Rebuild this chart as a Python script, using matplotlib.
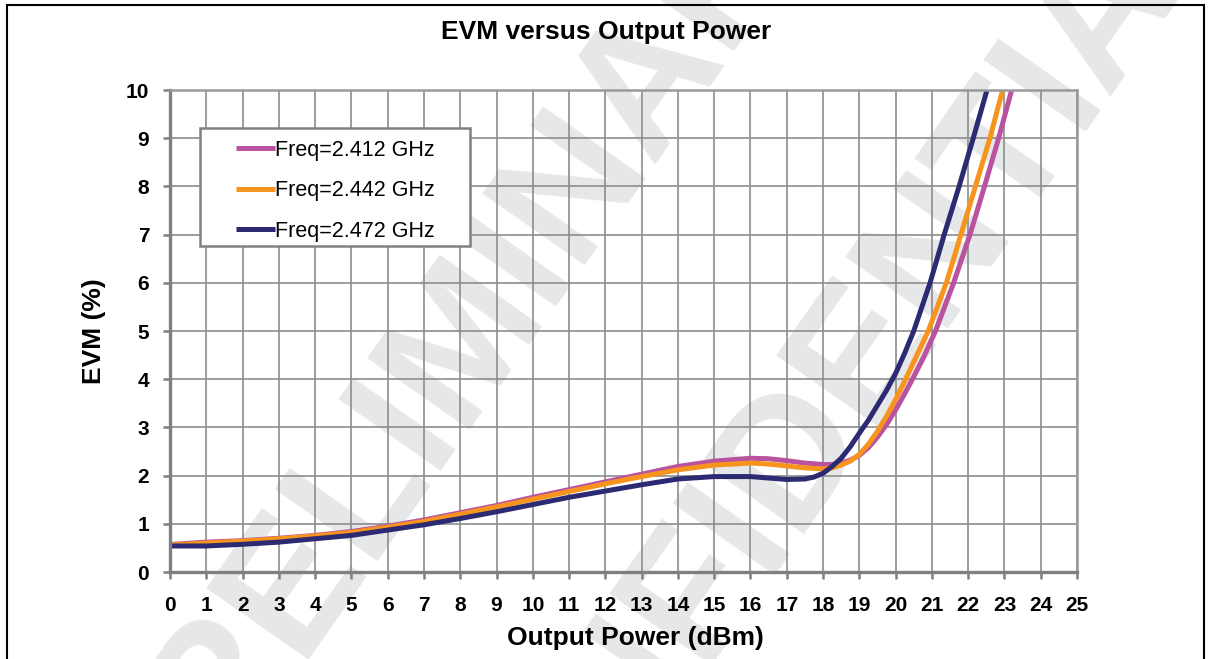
import matplotlib.pyplot as plt
from matplotlib.patches import Rectangle

# EVM vs output power, three channels
x_2412 = [0, 1, 2, 3, 4, 5, 6, 7, 8, 9, 10, 11, 12, 13, 14, 15, 16, 16.5, 17, 17.5, 18, 18.25, 18.5,
          18.75, 19, 19.25, 19.5, 19.75, 20, 20.25, 20.5, 20.8, 21.1, 21.6, 22.05, 22.45, 22.84, 23.2]
evm_2412 = [0.57, 0.62, 0.65, 0.7, 0.76, 0.84, 0.95, 1.08, 1.23, 1.38, 1.55, 1.71, 1.87, 2.03, 2.19, 2.3,
            2.36, 2.35, 2.31, 2.26, 2.23, 2.23, 2.26, 2.32, 2.42, 2.58, 2.8, 3.06, 3.36, 3.7, 4.05, 4.5,
            5.0, 6.0, 7.0, 8.0, 9.0, 10.0]

x_2442 = [0, 1, 2, 3, 4, 5, 6, 7, 8, 9, 10, 11, 12, 13, 14, 15, 16, 16.5, 17, 17.5, 18, 18.25, 18.5,
          18.75, 19, 19.25, 19.5, 19.75, 20, 20.25, 20.5, 20.9, 21.4, 21.8, 22.2, 22.6, 22.95]
evm_2442 = [0.56, 0.6, 0.64, 0.69, 0.75, 0.82, 0.93, 1.05, 1.2, 1.35, 1.51, 1.67, 1.83, 1.98, 2.12, 2.22,
            2.26, 2.24, 2.2, 2.16, 2.14, 2.16, 2.22, 2.3, 2.44, 2.65, 2.92, 3.23, 3.58, 3.96, 4.36, 5.0,
            6.0, 7.0, 8.0, 9.0, 10.0]

x_2472 = [0, 1, 2, 3, 4, 5, 6, 7, 8, 9, 10, 11, 12, 13, 14, 15, 16, 16.5, 17, 17.5, 17.75, 18, 18.25,
          18.5, 18.75, 19, 19.25, 19.5, 19.75, 20, 20.25, 20.5, 20.95, 21.34, 21.75, 22.14, 22.52]
evm_2472 = [0.54, 0.54, 0.575, 0.62, 0.69, 0.76, 0.87, 0.98, 1.11, 1.25, 1.4, 1.55, 1.68, 1.81, 1.93, 1.98,
            1.98, 1.95, 1.92, 1.93, 1.97, 2.05, 2.19, 2.36, 2.6, 2.88, 3.15, 3.46, 3.77, 4.12, 4.54, 5.0,
            6.0, 7.0, 8.0, 9.0, 10.0]

labels = ['Freq=2.412 GHz', 'Freq=2.442 GHz', 'Freq=2.472 GHz']
colors = ['#b9529f', '#f7941e', '#2b2a72']

plt.rcParams['font.family'] = ['Liberation Sans', 'DejaVu Sans']

fig = plt.figure(figsize=(12.12, 6.59), dpi=100)
ax = fig.add_axes([0.1403, 0.132, 0.7483, 0.7314])
ax.set_facecolor('none')

# watermark behind everything
fig.text(470 / 1212, 1 - 330 / 659, 'PRELIMINARY', rotation=55, fontsize=130, fontweight='bold',
         color='#e6e7e8', ha='center', va='center', rotation_mode='anchor', zorder=-1)
fig.text(820 / 1212, 1 - 420 / 659, 'CONFIDENTIAL', rotation=55, fontsize=130, fontweight='bold',
         color='#e6e7e8', ha='center', va='center', rotation_mode='anchor', zorder=-1)

for xs, ys, lab, c in zip([x_2412, x_2442, x_2472], [evm_2412, evm_2442, evm_2472], labels, colors):
    ax.plot(xs, ys, color=c, lw=3.6, label=lab, solid_joinstyle='round', solid_capstyle='butt')

ax.set_xlim(0, 25)
ax.set_ylim(0, 10)
ax.set_xticks(range(0, 26))
ax.set_yticks(range(0, 11))
ax.grid(True, color='#8c8c8c', lw=1.2)
ax.set_axisbelow(True)

for s in ['left', 'bottom']:
    ax.spines[s].set_color('#808080')
    ax.spines[s].set_linewidth(2.4)
for s in ['top', 'right']:
    ax.spines[s].set_color('#999999')
    ax.spines[s].set_linewidth(1.8)

ax.tick_params(axis='both', direction='out', length=5, width=1.8, color='#808080', labelsize=15)
ax.tick_params(axis='y', pad=10)
ax.tick_params(axis='x', pad=12)
for t in ax.get_xticklabels() + ax.get_yticklabels():
    t.set_fontweight('bold')

ax.set_xlabel('Output Power (dBm)', fontsize=19, fontweight='bold')
ax.xaxis.set_label_coords(0.513, -0.113)
ax.set_ylabel('EVM (%)', fontsize=19, fontweight='bold', labelpad=14)
fig.text(0.5, 1 - 32 / 659, 'EVM versus Output Power', fontsize=19, fontweight='bold',
         ha='center', va='center')

# legend box drawn separately so it can be wider than the entries
ax.add_patch(Rectangle((0.0331, 0.676), 0.2977, 0.245, transform=ax.transAxes,
                       facecolor='white', edgecolor='#808080', lw=1.8, zorder=4))
leg = ax.legend(loc='center', bbox_to_anchor=(0.182, 0.791), borderaxespad=0, fontsize=15.5,
                handlelength=1.8, handletextpad=0.0, labelspacing=0.9, borderpad=0.3,
                frameon=False)
leg.set_zorder(5)

# outer frame
fig.add_artist(Rectangle((7 / 1212, -0.05), (1204 - 7) / 1212, 1 - 5 / 659 + 0.05,
                         transform=fig.transFigure, fill=False, lw=1.5, ec='black'))

fig.savefig('out.png', dpi=100)
